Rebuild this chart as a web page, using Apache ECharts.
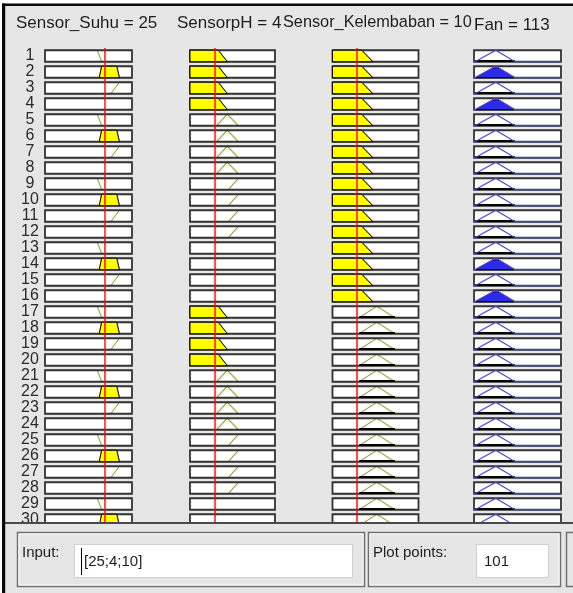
<!DOCTYPE html>
<html>
<head>
<meta charset="utf-8">
<script src="https://cdn.jsdelivr.net/npm/echarts@6/dist/echarts.min.js"></script>
<style>html,body{margin:0;padding:0;background:#fff;}#c{width:573px;height:593px;}</style>
</head>
<body>
<div id="c"></div>
<script>
// ---------- data ----------
const rowLabels = ['1','2','3','4','5','6','7','8','9','10','11','12','13','14','15','16','17','18','19','20','21','22','23','24','25','26','27','28','29','30'];

const suhuName = 'Sensor_Suhu';
const suhuInput = 25;
const suhuRange = [0, 36.25];
const suhuMF = [[0, 0, 21.8, 23.6], [22.6, 23.6, 29.9, 31.0], [27.4, 31.0, 36.25, 36.25]];
const suhuMFDegree = [0, 1, 0];
const suhuRule = [1,2,3,0, 1,2,3,0, 1,2,3,0, 1,2,3,0, 1,2,3,0, 1,2,3,0, 1,2,3,0, 1,2];

const phName = 'SensorpH';
const phInput = 4;
const phRange = [0, 14];
const phMF = [[0, 0, 4.66, 6.15], [4.39, 6.15, 6.15, 7.96], [6.32, 7.96, 14, 14]];
const phMFDegree = [1, 0, 0];
const phRule = [1,1,1,1, 2,2,2,2, 3,3,3,3, 0,0,0,0, 1,1,1,1, 2,2,2,2, 3,3,3,3, 0,0];

const kelName = 'Sensor_Kelembaban';
const kelInput = 10;
const kelRange = [0, 35];
const kelMF = [[0, 0, 11.9, 16.4], [10.9, 18.0, 18.0, 25.4]];
const kelMFDegree = [1, 0];
const kelRule = [1,1,1,1, 1,1,1,1, 1,1,1,1, 1,1,1,1, 2,2,2,2, 2,2,2,2, 2,2,2,2, 2,2];

const fanName = 'Fan';
const fanOutput = 113;
const fanRange = [0, 255];
const fanMF = [[3, 64, 64, 120]];
const fanRule = [1,1,1,1, 1,1,1,1, 1,1,1,1, 1,1,1,1, 1,1,1,1, 1,1,1,1, 1,1,1,1, 1,1];
const fanRuleDegree = [0,0.86,0,0.86, 0,0,0,0, 0,0,0,0, 0,0.86,0,0.86, 0,0,0,0, 0,0,0,0, 0,0,0,0, 0,0];

const inputText = '[25;4;10]';
const plotPoints = '101';

// ---------- layout / style ----------
const FONT = '"Liberation Sans", Arial, sans-serif';
const gridTop = 48, gridHeight = 480;
const columns = [
  {left: 45,    width: 87, range: suhuRange, mf: suhuMF, rule: suhuRule, deg: i => suhuMFDegree[suhuRule[i]-1] || 0, line: '#a8a848', fill: '#ffff00', lineOnTop: false, zeroBase: false},
  {left: 190,   width: 85, range: phRange,   mf: phMF,   rule: phRule,   deg: i => phMFDegree[phRule[i]-1] || 0,   line: '#a8a848', fill: '#ffff00', lineOnTop: false, zeroBase: false},
  {left: 332.5, width: 86, range: kelRange,  mf: kelMF,  rule: kelRule,  deg: i => kelMFDegree[kelRule[i]-1] || 0, line: '#a8a848', fill: '#ffff00', lineOnTop: false, zeroBase: true},
  {left: 474,   width: 87, range: fanRange,  mf: fanMF,  rule: fanRule,  deg: i => fanRuleDegree[i],              line: '#4a4ad8', fill: '#2b2bf0', lineOnTop: true,  zeroBase: true}
];

function mfPath(p, range) {
  const [a,b,c,d] = p, pts = [];
  if (a > range[0]) pts.push([range[0], 0]);
  if (a < b) pts.push([a, 0]);
  pts.push([b, 1]); pts.push([c, 1]);
  if (c < d) pts.push([d, 0]);
  if (d < range[1]) pts.push([range[1], 0]);
  return pts;
}
function fillPath(p, g) {
  const [a,b,c,d] = p, base = [];
  if (a < b) base.push([a, 0]);
  base.push([b, 1]); base.push([c, 1]);
  if (c < d) base.push([d, 0]);
  const out = [];
  for (let i = 0; i < base.length; i++) {
    const [x, m] = base[i];
    out.push([x, Math.min(m, g)]);
    if (i < base.length - 1) {
      const [x2, m2] = base[i+1];
      if ((m - g) * (m2 - g) < 0) {
        const t = (g - m) / (m2 - m);
        out.push([x + t * (x2 - x), g]);
      }
    }
  }
  out.push([base[base.length-1][0], 0]);
  out.push([base[0][0], 0]);
  return out;
}

function makeRender(col) {
  return function (params, api) {
    const row = api.value(0), mfIdx = api.value(1), g = api.value(2);
    const c0 = api.coord([col.range[0], row]);
    const c1 = api.coord([col.range[1], row]);
    const band = api.size([0, 1])[1];
    const boxH = band * 0.72;
    const yB = c0[1] + boxH / 2, yT = yB - boxH;
    const P = (x, m) => [api.coord([x, row])[0], yB - m * boxH];
    const children = [];
    children.push({type: 'rect', shape: {x: c0[0], y: yT, width: c1[0] - c0[0], height: boxH}, style: {fill: '#ffffff', stroke: 'none'}});
    let linePts = null, fillPts = null;
    if (mfIdx > 0) {
      const p = col.mf[mfIdx - 1];
      linePts = mfPath(p, col.range).map(q => P(q[0], q[1]));
      if (g > 0 || col.zeroBase) fillPts = fillPath(p, g).map(q => P(q[0], q[1] > 0 ? q[1] : (g > 0 ? 0 : 0.06)));
    }
    if (linePts && !col.lineOnTop) children.push({type: 'polyline', shape: {points: linePts}, style: {stroke: col.line, fill: 'none', lineWidth: 1.2}});
    children.push({type: 'rect', shape: {x: c0[0], y: yT, width: c1[0] - c0[0], height: boxH}, style: {fill: 'none', stroke: '#333333', lineWidth: 1.8}});
    if (fillPts) children.push({type: 'polygon', shape: {points: fillPts}, style: {fill: col.fill, stroke: '#000', lineWidth: g > 0 ? 1 : 2}});
    if (linePts && col.lineOnTop) children.push({type: 'polyline', shape: {points: linePts}, style: {stroke: col.line, fill: 'none', lineWidth: 1.2}});
    return {type: 'group', children};
  };
}

const grids = columns.map(c => ({left: c.left, top: gridTop, width: c.width, height: gridHeight, containLabel: false}));
const xAxes = columns.map((c, i) => ({type: 'value', gridIndex: i, min: c.range[0], max: c.range[1], show: false}));
const yAxes = columns.map((c, i) => ({
  type: 'category', gridIndex: i, inverse: true, data: rowLabels, show: i === 0,
  axisLine: {show: false}, axisTick: {show: false}, splitLine: {show: false},
  axisLabel: {show: i === 0, interval: 0, fontSize: 16, color: '#2b2b2b', fontFamily: FONT, align: 'center', margin: 15}
}));

const series = columns.map((c, i) => ({
  type: 'custom', xAxisIndex: i, yAxisIndex: i, renderItem: makeRender(c),
  encode: {x: 1, y: 0}, silent: true, z: 2,
  data: rowLabels.map((r, k) => [k, c.rule[k], c.deg(k)])
}));
[suhuInput, phInput, kelInput].forEach((v, i) => {
  series.push({
    type: 'line', xAxisIndex: i, yAxisIndex: i, data: [], z: 5, silent: true,
    markLine: {symbol: 'none', silent: true, animation: false, label: {show: false},
      lineStyle: {color: 'rgba(255,0,0,0.7)', width: 2, type: 'solid'},
      emphasis: {disabled: true}, data: [{xAxis: v}]}
  });
});

const txt = (text, x, y, size, extra) => Object.assign({type: 'text', z: 110, silent: true,
  style: {text, x, y, fill: '#1e1e1e', font: size + 'px ' + FONT, textAlign: 'left', textVerticalAlign: 'middle', align: 'left', verticalAlign: 'middle'}}, extra || {});
const rect = (x, y, w, h, style, z) => ({type: 'rect', z: z || 100, silent: true, shape: {x, y, width: w, height: h}, style});

const graphic = [
  rect(0, 0, 573, 593, {fill: '#e6e6e6'}, -10),
  // header
  txt(suhuName + ' = ' + suhuInput, 16, 23, 17),
  txt(phName + ' = ' + phInput, 177, 23, 17),
  txt(kelName + ' = ' + kelInput, 283, 23, 16.3),
  txt(fanName + ' = ' + fanOutput, 474, 25, 17),
  // bottom panel
  rect(0, 522, 573, 71, {fill: '#e6e6e6'}, 100),
  {type: 'line', z: 101, silent: true, shape: {x1: 5, y1: 523, x2: 573, y2: 523}, style: {stroke: '#4a4a4a', lineWidth: 2}},
  rect(17.5, 532.5, 347, 54, {fill: 'none', stroke: '#707070', lineWidth: 1.5}, 101),
  rect(19, 534, 344, 51, {fill: 'none', stroke: '#fafafa', lineWidth: 1}, 101),
  txt('Input:', 22, 553, 15),
  rect(74.5, 544.5, 278, 33, {fill: '#ffffff', stroke: '#cfcfcf', lineWidth: 1}, 101),
  {type: 'line', z: 111, silent: true, shape: {x1: 81.5, y1: 548, x2: 81.5, y2: 575}, style: {stroke: '#000', lineWidth: 1}},
  txt(inputText, 84, 562, 15),
  rect(368.5, 532.5, 192, 54, {fill: 'none', stroke: '#707070', lineWidth: 1.5}, 101),
  rect(370, 534, 189, 51, {fill: 'none', stroke: '#fafafa', lineWidth: 1}, 101),
  txt('Plot points:', 373, 553, 15),
  rect(476.5, 544.5, 72, 33, {fill: '#ffffff', stroke: '#cfcfcf', lineWidth: 1}, 101),
  txt(plotPoints, 484, 562, 15),
  rect(566.5, 532.5, 20, 54, {fill: 'none', stroke: '#707070', lineWidth: 1.5}, 101),
  // outer frame
  rect(0, 0, 573, 3.5, {fill: '#ffffff'}, 120),
  rect(0, 0, 2, 593, {fill: '#ffffff'}, 120),
  rect(2, 3.5, 571, 2.5, {fill: '#0a0a0a'}, 121),
  rect(2, 3.5, 3.2, 589.5, {fill: '#0a0a0a'}, 121)
];

const chart = echarts.init(document.getElementById('c'), null, {renderer: 'canvas'});
chart.setOption({
  animation: false,
  backgroundColor: '#e6e6e6',
  grid: grids, xAxis: xAxes, yAxis: yAxes, series, graphic
});
</script>
</body>
</html>
